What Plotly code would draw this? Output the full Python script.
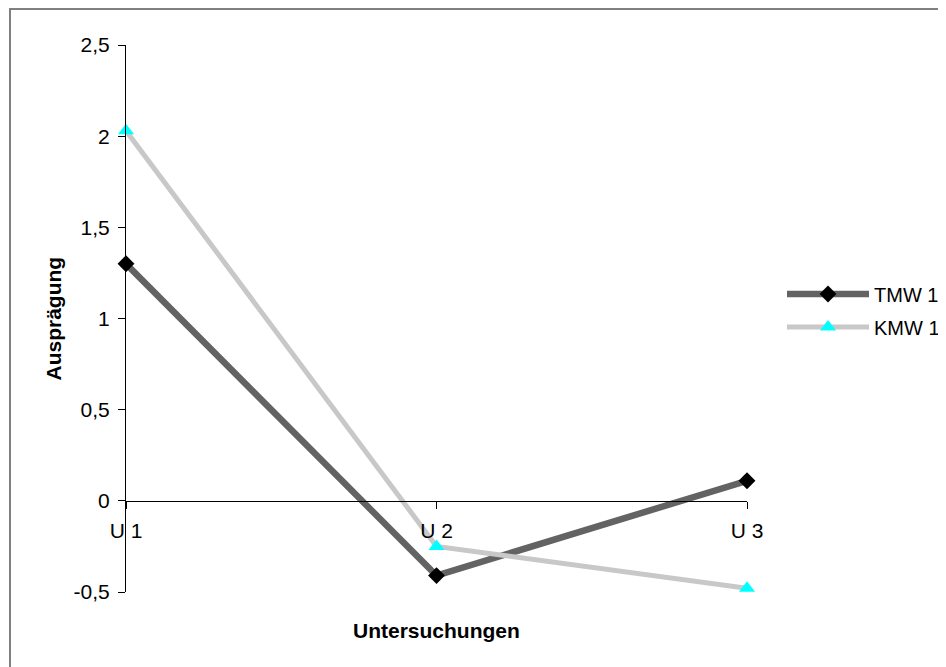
import plotly.graph_objects as go

categories = ["U 1", "U 2", "U 3"]
tmw_values = [1.30, -0.41, 0.11]
kmw_values = [2.03, -0.25, -0.48]
y_tick_values = [-0.5, 0, 0.5, 1, 1.5, 2, 2.5]
y_tick_labels = ["-0,5", "0", "0,5", "1", "1,5", "2", "2,5"]
cat_index = [0, 1, 2]

FONT = "Liberation Sans, Arial, sans-serif"
FS = 21
OFF = 8  # default page margin of the html body
W, H = 946 - OFF, 667 - OFF
L, T = 126 - OFF, 45 - OFF
R = W - (747 - OFF)
B = H - (592 - OFF)
PW, PH = W - L - R, H - T - B


def px_x(x):
    return (x - OFF - L) / PW


def px_y(y):
    return (H - B - (y - OFF)) / PH


fig = go.Figure()
fig.add_trace(go.Scatter(
    x=categories, y=tmw_values, name="TMW 1", mode="lines+markers",
    line=dict(color="#636363", width=6.5),
    marker=dict(symbol="diamond", size=13, color="black"),
    cliponaxis=False, legend="legend",
))
fig.add_trace(go.Scatter(
    x=categories, y=kmw_values, name="KMW 1", mode="lines+markers",
    line=dict(color="#c8c8c8", width=5),
    marker=dict(symbol="triangle-up", size=14, color="#00ffff"),
    cliponaxis=False, legend="legend2",
))

legend_common = dict(
    xanchor="left", yanchor="middle", bgcolor="rgba(0,0,0,0)",
    borderwidth=0, itemwidth=82, font=dict(size=20, family=FONT),
)

fig.update_layout(
    width=W, height=H,
    margin=dict(l=L, r=R, t=T, b=B, autoexpand=False),
    paper_bgcolor="white", plot_bgcolor="white",
    separators=",.",
    font=dict(family=FONT, size=FS, color="black"),
    xaxis=dict(
        type="category", range=[0, 2], anchor="free", position=1 / 6,
        showline=True, linecolor="black", linewidth=1,
        ticks="outside", ticklen=7, tickcolor="black", tickwidth=1,
        showgrid=False, zeroline=False, ticklabelstandoff=4,
        tickfont=dict(size=FS, family=FONT),
    ),
    xaxis2=dict(
        overlaying="x", anchor="free", position=1 / 6, range=[0, 2],
        tickmode="array", tickvals=cat_index, showticklabels=False,
        ticks="inside", ticklen=7, tickcolor="black", tickwidth=1,
        showline=False, showgrid=False, zeroline=False,
    ),
    yaxis=dict(
        range=[-0.5, 2.5], tickmode="array", tickvals=y_tick_values,
        ticktext=y_tick_labels,
        showline=True, linecolor="black", linewidth=1,
        ticks="outside", ticklen=7, tickcolor="black", tickwidth=1,
        showgrid=False, zeroline=False, ticklabelstandoff=4,
        tickfont=dict(size=FS, family=FONT),
    ),
    yaxis2=dict(
        overlaying="y", anchor="x", range=[-0.5, 2.5],
        tickmode="array", tickvals=y_tick_values, showticklabels=False,
        ticks="inside", ticklen=7, tickcolor="black", tickwidth=1,
        showline=False, showgrid=False, zeroline=False,
    ),
    legend=dict(x=px_x(782), y=px_y(294), **legend_common),
    legend2=dict(x=px_x(782), y=px_y(327), **legend_common),
    showlegend=True,
    shapes=[dict(
        type="rect", xref="paper", yref="paper",
        x0=px_x(10), x1=px_x(960), y0=px_y(690), y1=px_y(9),
        line=dict(color="#808080", width=2), fillcolor="rgba(0,0,0,0)",
        layer="below",
    )],
    annotations=[
        dict(text="<b>Ausprägung</b>", xref="paper", yref="paper",
             x=px_x(53), y=0.5, textangle=-90, showarrow=False,
             xanchor="center", yanchor="middle", font=dict(size=FS, family=FONT)),
        dict(text="<b>Untersuchungen</b>", xref="paper", yref="paper",
             x=0.5, y=px_y(630), showarrow=False,
             xanchor="center", yanchor="middle", font=dict(size=FS, family=FONT)),
    ],
)

fig.write_html("out.html")
